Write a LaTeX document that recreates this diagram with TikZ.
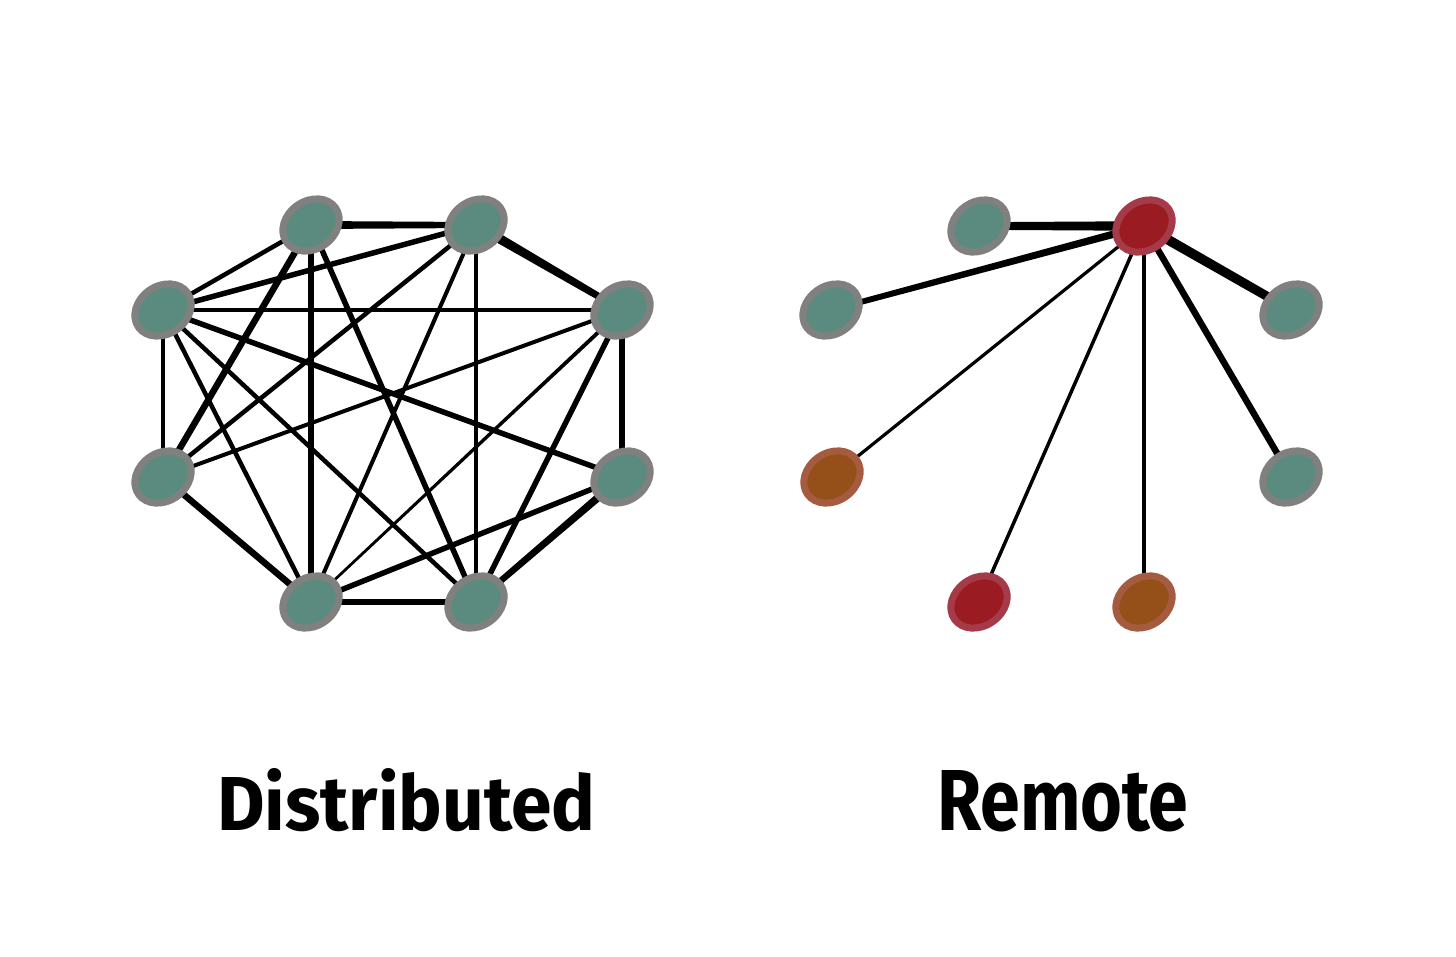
\documentclass[tikz,border=0pt]{standalone}
\usepackage{fontspec}
\setmainfont{Fira Sans}
\usetikzlibrary{shapes.geometric,calc,backgrounds}
\definecolor{ngray}{HTML}{808080}
\definecolor{nteal}{HTML}{5B8B7E}
\definecolor{rfill}{HTML}{9B1B22}
\definecolor{rring}{HTML}{A53A48}
\definecolor{ofill}{HTML}{955019}
\definecolor{oring}{HTML}{A55B3F}
\tikzset{
  nd/.style={ellipse, line width=7pt, minimum width=60pt, minimum height=48pt, inner sep=0pt, rotate=35},
  tnode/.style={nd, draw=ngray, fill=nteal},
  rnode/.style={nd, draw=rring, fill=rfill},
  onode/.style={nd, draw=oring, fill=ofill},
  ln/.style={draw=black, line width=#1},
  lbl/.style={inner sep=0pt, anchor=south west},
}
% tapered connector: from node #1 (half width #3) to node #2 (half width #4)
\newcommand\tpr[4]{\fill[black] ($(#1.center)!#3!90:(#2.center)$) -- ($(#2.center)!#4!-90:(#1.center)$) -- ($(#2.center)!#4!90:(#1.center)$) -- ($(#1.center)!#3!-90:(#2.center)$) -- cycle;}
\begin{document}
\begin{tikzpicture}[x=1pt,y=-1pt]
\useasboundingbox (0,0) rectangle (1456,956);
% Distributed
\node[tnode] (TL) at (311,225) {};
\node[tnode] (TR) at (476,225) {};
\node[tnode] (LU) at (163,310) {};
\node[tnode] (RU) at (622,310) {};
\node[tnode] (LL) at (163,477) {};
\node[tnode] (RL) at (622,477) {};
\node[tnode] (BL) at (311,602) {};
\node[tnode] (BR) at (476,602) {};
% Remote
\node[rnode] (C)  at (1144,226) {};
\node[tnode] (T)  at (979,226) {};
\node[tnode] (L)  at (831,310) {};
\node[tnode] (R1) at (1291,310) {};
\node[onode] (LO) at (832,477) {};
\node[tnode] (R2) at (1291,477) {};
\node[rnode] (BD) at (979,602) {};
\node[onode] (BO) at (1144,602) {};
\begin{pgfonlayer}{background}
\fill[white] (0,0) rectangle (1456,956);
% outer ring
\tpr{TL}{TR}{4pt}{3pt}
\tpr{TR}{RU}{5pt}{3.2pt}
\draw[ln=5.5pt] (RU.center) -- (RL.center);
\tpr{RL}{BR}{4pt}{3pt}
\draw[ln=5.5pt] (BR.center) -- (BL.center);
\draw[ln=6.5pt] (BL.center) -- (LL.center);
\draw[ln=4.5pt] (LL.center) -- (LU.center);
\draw[ln=4.5pt] (LU.center) -- (TL.center);
% chords
\draw[ln=5.5pt] (LU.center) -- (TR.center);
\draw[ln=4.5pt] (LU.center) -- (RU.center);
\draw[ln=5.5pt] (LU.center) -- (RL.center);
\draw[ln=4.5pt] (LU.center) -- (BR.center);
\draw[ln=4.5pt] (LU.center) -- (BL.center);
\draw[ln=6.5pt] (TL.center) -- (LL.center);
\draw[ln=6.5pt] (TL.center) -- (BL.center);
\draw[ln=5.5pt] (TL.center) -- (BR.center);
\draw[ln=4.5pt] (TR.center) -- (LL.center);
\draw[ln=4pt] (TR.center) -- (BL.center);
\draw[ln=4.5pt] (TR.center) -- (BR.center);
\draw[ln=4pt] (RU.center) -- (LL.center);
\tpr{RU}{BL}{2pt}{1.3pt}
\draw[ln=5.5pt] (RU.center) -- (BR.center);
\draw[ln=5.5pt] (RL.center) -- (BL.center);
% Remote star
\tpr{C}{T}{4.8pt}{3.8pt}
\tpr{C}{L}{3.8pt}{2.8pt}
\draw[ln=3.2pt] (C.center) -- (LO.center);
\draw[ln=3.5pt] (C.center) -- (BD.center);
\draw[ln=4.5pt] (C.center) -- (BO.center);
\draw[ln=6.5pt] (C.center) -- (R2.center);
\tpr{C}{R1}{5pt}{4.5pt}
\end{pgfonlayer}
% Labels
\node[lbl] (t1) at (217,832) {\resizebox{378pt}{62pt}{\bfseries Distributed}};
\node[lbl] (t2) at (937,832) {\resizebox{251pt}{60pt}{\bfseries Remote}};
\end{tikzpicture}
\end{document}
